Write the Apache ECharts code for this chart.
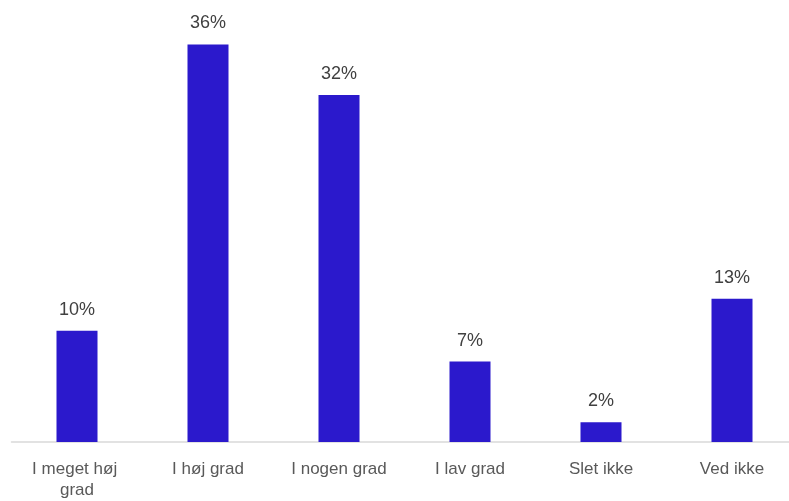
<!DOCTYPE html>
<html>
<head>
<meta charset="utf-8">
<script src="https://cdn.jsdelivr.net/npm/echarts@6/dist/echarts.min.js"></script>
<style>html,body{margin:0;padding:0;background:#fff;overflow:hidden;width:789px;height:501px}#c{width:798px;height:501px}</style>
</head>
<body>
<div id="c"></div>
<script>
const categories = ["I meget høj grad", "I høj grad", "I nogen grad", "I lav grad", "Slet ikke", "Ved ikke"];
const values = [10.1, 36.1, 31.5, 7.3, 1.8, 13.0];

const chart = echarts.init(document.getElementById('c'), null, {renderer: 'canvas'});
chart.setOption({
  animation: false,
  backgroundColor: '#ffffff',
  grid: {left: 11.5, right: 0.5, top: 1.5, bottom: 56, containLabel: false},
  xAxis: {
    type: 'category',
    data: categories,
    axisLine: {show: true, lineStyle: {color: '#d9d9d9', width: 1.5}},
    axisTick: {show: false},
    axisLabel: {
      interval: 0,
      margin: 17,
      color: '#595959',
      fontFamily: 'Liberation Sans, Arial, sans-serif',
      fontSize: 17,
      lineHeight: 21,
      width: 105,
      overflow: 'break'
    }
  },
  yAxis: {
    type: 'value',
    min: 0,
    max: 40,
    show: false,
    splitLine: {show: false}
  },
  series: [{
    type: 'bar',
    data: values,
    barWidth: 41,
    itemStyle: {color: '#2B19CC'},
    label: {
      show: true,
      position: 'top',
      distance: 12,
      color: '#404040',
      fontFamily: 'Liberation Sans, Arial, sans-serif',
      fontSize: 18,
      formatter: p => Math.round(p.value) + '%'
    }
  }]
});
</script>
</body>
</html>
